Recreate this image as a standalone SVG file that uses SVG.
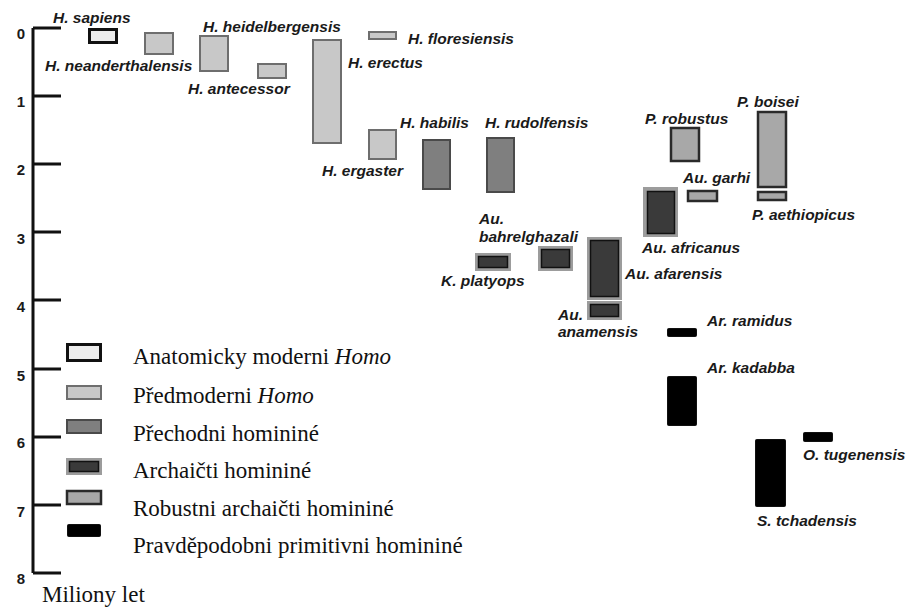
<svg xmlns="http://www.w3.org/2000/svg" width="907" height="607" viewBox="0 0 907 607">
<style>
.lbl{font-family:"Liberation Sans",Arial,sans-serif;font-weight:bold;font-style:italic;font-size:15.5px;fill:#1a1a1a}
.ax{font-family:"Liberation Sans",Arial,sans-serif;font-weight:bold;font-size:15px;fill:#1a1a1a;text-anchor:middle}
.leg{font-family:"Liberation Serif","Times New Roman",serif;font-size:23px;fill:#111}
.modern{fill:#ececec;stroke:#111;stroke-width:3}
.pre{fill:#c8c8c8;stroke:#6e6e6e;stroke-width:2}
.trans{fill:#7f7f7f;stroke:#4a4a4a;stroke-width:2}
.halo{fill:#9c9c9c}
.arch{fill:#3a3a3a;stroke:#111;stroke-width:1.5}
.rob{fill:#a8a8a8;stroke:#2a2a2a;stroke-width:2.5}
.prim{fill:#000;stroke:#111;stroke-width:1}
.axis{stroke:#111;stroke-width:3;fill:none}
</style>
<rect width="907" height="607" fill="#fff"/>
<g id="axis">
<path class="axis" d="M33,28 V573"/>
<path class="axis" stroke-width="2.5" d="M33,28 H61 M33,96 H61 M33,164 H61 M33,232 H61 M33,300 H61 M33,369 H61 M33,437 H61 M33,505 H61 M33,573 H61"/>
<text class="ax" x="21" y="39">0</text>
<text class="ax" x="21" y="107">1</text>
<text class="ax" x="21" y="175">2</text>
<text class="ax" x="21" y="244">3</text>
<text class="ax" x="21" y="312">4</text>
<text class="ax" x="21" y="381">5</text>
<text class="ax" x="21" y="448">6</text>
<text class="ax" x="21" y="517">7</text>
<text class="ax" x="21" y="584">8</text>
<text class="leg" x="42" y="602">Miliony let</text>
</g>
<g id="connectors"></g>
<g id="h-sapiens"><rect class="modern" x="89.5" y="29.5" width="27" height="13"/><text class="lbl" x="53" y="23">H. sapiens</text></g>
<g id="h-neanderthalensis"><rect class="pre" x="145" y="33" width="28" height="21"/><text class="lbl" x="45" y="71">H. neanderthalensis</text></g>
<g id="h-heidelbergensis"><rect class="pre" x="200" y="36" width="28" height="35"/><text class="lbl" x="203" y="32">H. heidelbergensis</text></g>
<g id="h-antecessor"><rect class="pre" x="258" y="64" width="28" height="14"/><text class="lbl" x="188" y="94">H. antecessor</text></g>
<g id="h-erectus"><rect class="pre" x="313" y="40" width="28" height="103"/><text class="lbl" x="348" y="68">H. erectus</text></g>
<g id="h-floresiensis"><rect class="pre" x="369" y="32" width="27" height="7"/><text class="lbl" x="408" y="44">H. floresiensis</text></g>
<g id="h-ergaster"><rect class="pre" x="369" y="130" width="27" height="29"/><text class="lbl" x="322" y="176">H. ergaster</text></g>
<g id="h-habilis"><rect class="trans" x="423" y="140" width="27" height="49"/><text class="lbl" x="400" y="128">H. habilis</text></g>
<g id="h-rudolfensis"><rect class="trans" x="487" y="138" width="27" height="54"/><text class="lbl" x="485" y="128">H. rudolfensis</text></g>
<g id="p-robustus"><rect class="rob" x="671" y="128" width="28" height="33"/><text class="lbl" x="645" y="124">P. robustus</text></g>
<g id="p-boisei"><rect class="rob" x="758" y="112" width="28" height="75"/><text class="lbl" x="737" y="107">P. boisei</text></g>
<g id="p-aethiopicus"><rect class="rob" x="758" y="192" width="28" height="8"/><text class="lbl" x="752" y="220">P. aethiopicus</text></g>
<g id="au-garhi"><rect class="rob" x="688" y="191" width="29" height="10"/><text class="lbl" x="683" y="183">Au. garhi</text></g>
<g id="au-africanus"><rect class="halo" x="643" y="187" width="35" height="50"/><rect class="arch" x="647.5" y="191.5" width="27" height="42"/><text class="lbl" x="642" y="253">Au. africanus</text></g>
<g id="au-afarensis"><rect class="halo" x="587" y="237" width="35" height="63"/><rect class="arch" x="590.5" y="240.5" width="28" height="56"/><text class="lbl" x="625" y="279">Au. afarensis</text></g>
<g id="au-anamensis"><rect class="halo" x="587" y="301" width="35" height="19"/><rect class="arch" x="590.5" y="304.5" width="28" height="12"/><text class="lbl" x="558" y="320">Au.</text><text class="lbl" x="558" y="337">anamensis</text></g>
<g id="au-bahrelghazali"><rect class="halo" x="538" y="246" width="35" height="25"/><rect class="arch" x="541.5" y="249.5" width="28" height="18"/><text class="lbl" x="479" y="224">Au.</text><text class="lbl" x="479" y="242">bahrelghazali</text></g>
<g id="k-platyops"><rect class="halo" x="475" y="253" width="36" height="18"/><rect class="arch" x="478.5" y="256.5" width="29" height="11"/><text class="lbl" x="441" y="286">K. platyops</text></g>
<g id="ar-ramidus"><rect class="prim" x="667.5" y="328.5" width="29" height="8" rx="1"/><text class="lbl" x="707" y="326">Ar. ramidus</text></g>
<g id="ar-kadabba"><rect class="prim" x="667.5" y="376.5" width="29" height="49" rx="1"/><text class="lbl" x="707" y="373">Ar. kadabba</text></g>
<g id="s-tchadensis"><rect class="prim" x="755.5" y="439.5" width="30" height="67" rx="1"/><text class="lbl" x="757" y="526">S. tchadensis</text></g>
<g id="o-tugenensis"><rect class="prim" x="803.5" y="432.5" width="29" height="9" rx="1"/><text class="lbl" x="803" y="460">O. tugenensis</text></g>
<g id="legend">
<g id="legend-modern"><rect class="modern" x="67.5" y="344.5" width="33" height="16"/><text class="leg" x="133" y="364">Anatomicky moderni <tspan font-style="italic">Homo</tspan></text></g>
<g id="legend-premodern"><rect class="pre" x="67" y="386" width="34" height="13"/><text class="leg" x="133" y="403">Předmoderni <tspan font-style="italic">Homo</tspan></text></g>
<g id="legend-transitional"><rect class="trans" x="67" y="420" width="34" height="13"/><text class="leg" x="133" y="441">Přechodni homininé</text></g>
<g id="legend-archaic"><rect class="halo" x="66" y="458" width="36" height="17"/><rect class="arch" x="69.5" y="461.5" width="29" height="10"/><text class="leg" x="133" y="478">Archaičti homininé</text></g>
<g id="legend-robust"><rect class="rob" x="67" y="491" width="34" height="13"/><text class="leg" x="133" y="516">Robustni archaičti homininé</text></g>
<g id="legend-primitive"><rect class="prim" x="67.5" y="524.5" width="33" height="12" rx="1"/><text class="leg" x="133" y="553">Pravděpodobni primitivni homininé</text></g>
</g>
</svg>
